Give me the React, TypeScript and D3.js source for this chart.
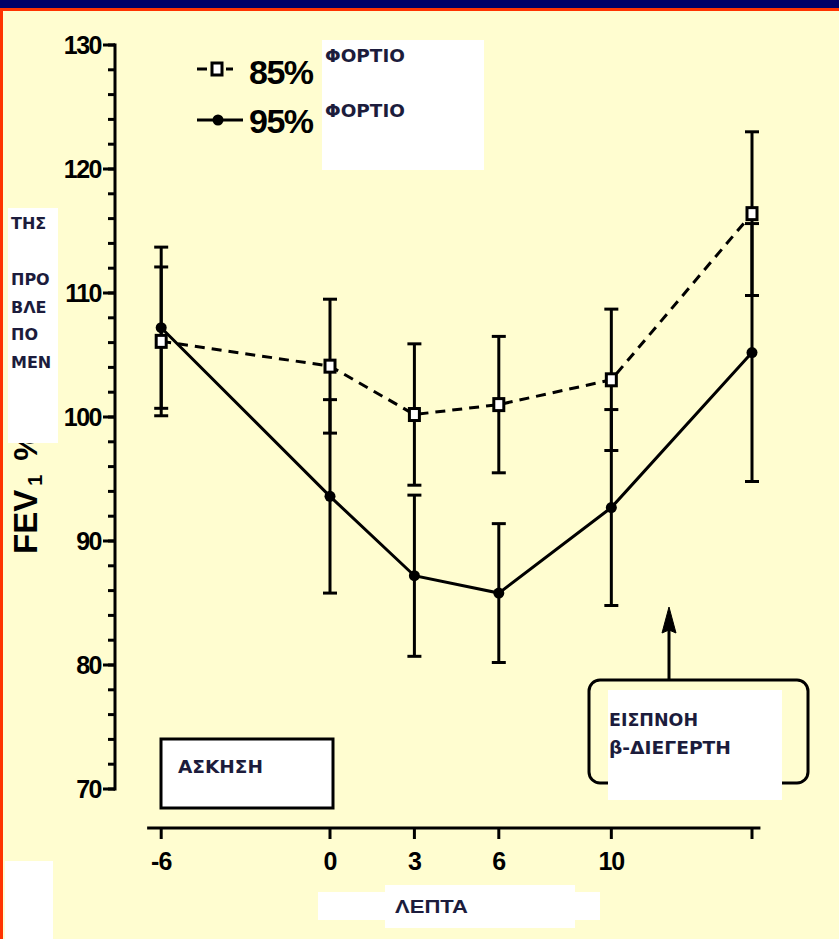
import React from "react";
import * as d3 from "d3";

// minutes relative to exercise end
const minutes = [-6, 0, 3, 6, 10, 15];
const xTickLabels = ["-6", "0", "3", "6", "10", ""];

// FEV1 % of predicted
const load85 = [106.1, 104.1, 100.2, 101.0, 103.0, 116.4];
const err85 = [6.0, 5.4, 5.7, 5.5, 5.7, 6.6];
const load95 = [107.2, 93.6, 87.2, 85.8, 92.7, 105.2];
const err95 = [6.5, 7.8, 6.5, 5.6, 7.9, 10.4];

const yMajor = [70, 80, 90, 100, 110, 120, 130];
const yMinor = d3.range(70, 131, 2);

const W = 839;
const H = 939;
const BG = "#fffdd0";
const NAVY = "#1c1c3c";

const App = () => {
  const x = d3.scaleLinear().domain([0, 15]).range([330, 752]);
  const y = d3.scaleLinear().domain([70, 130]).range([789, 45]);
  const axisY = 828;

  const line = d3
    .line<number>()
    .x((_, i) => x(minutes[i]))
    .y((d) => y(d));

  const errBars = (vals: number[], errs: number[], key: string) =>
    vals.map((v, i) => {
      const cx = x(minutes[i]);
      const top = y(v + errs[i]);
      const bot = y(v - errs[i]);
      return (
        <g key={key + i} stroke="#000" strokeWidth={3}>
          <line x1={cx} x2={cx} y1={top} y2={bot} />
          <line x1={cx - 7} x2={cx + 7} y1={top} y2={top} />
          <line x1={cx - 7} x2={cx + 7} y1={bot} y2={bot} />
        </g>
      );
    });

  return (
    <div style={{ position: "absolute", left: 0, top: 0 }}>
      <svg width={W} height={H} style={{ display: "block" }}>
        <rect x={0} y={0} width={W} height={H} fill={BG} />
        {/* frame */}
        <rect x={0} y={0} width={W} height={8} fill="#000066" />
        <rect x={0} y={8} width={W} height={3} fill="#ff3300" />
        <rect x={0} y={8} width={3} height={H} fill="#ff3300" />

        {/* y axis */}
        <g stroke="#000" strokeWidth={3}>
          <line x1={115} x2={115} y1={y(130) - 1.5} y2={y(70) + 1.5} />
          {yMinor.map((t) => (
            <line key={"mi" + t} x1={108} x2={115} y1={y(t)} y2={y(t)} />
          ))}
          {yMajor.map((t) => (
            <line key={"ma" + t} x1={103} x2={115} y1={y(t)} y2={y(t)} />
          ))}
        </g>
        {yMajor.map((t) => (
          <text
            key={"yl" + t}
            x={101}
            y={y(t)}
            dy="0.36em"
            textAnchor="end"
            fontFamily="Liberation Sans, Arial, sans-serif"
            fontWeight="bold"
            fontSize={25}
            letterSpacing={-1.5}
          >
            {t}
          </text>
        ))}

        {/* x axis */}
        <g stroke="#000" strokeWidth={3}>
          <line x1={x(-6.5)} x2={x(15.3)} y1={axisY} y2={axisY} />
          {minutes.map((m) => (
            <line key={"xt" + m} x1={x(m)} x2={x(m)} y1={axisY} y2={axisY + 11} />
          ))}
        </g>
        {minutes.map((m, i) => (
          <text
            key={"xl" + m}
            x={x(m)}
            y={870}
            textAnchor="middle"
            fontFamily="Liberation Sans, Arial, sans-serif"
            fontWeight="bold"
            fontSize={25}
            letterSpacing={-1}
          >
            {xTickLabels[i]}
          </text>
        ))}

        {/* y axis title */}
        <text
          transform="translate(37,554) rotate(-90)"
          fontFamily="Liberation Sans, Arial, sans-serif"
          fontWeight="bold"
          fontSize={33}
        >
          FEV
          <tspan fontSize={20} dy={5} dx={4}>1</tspan>
          <tspan dy={-5} dx={14}>%</tspan>
        </text>
        <rect x={8} y={208} width={50} height={235} fill="#fff" />
        <g fontFamily="DejaVu Sans, Verdana, sans-serif" fontWeight="bold" fontSize={16} fill={NAVY}>
          <text x={11} y={229}>ΤΗΣ</text>
          <text x={11} y={285}>ΠΡΟ</text>
          <text x={11} y={313}>ΒΛΕ</text>
          <text x={11} y={340}>ΠΟ</text>
          <text x={11} y={368}>ΜΕΝ</text>
        </g>

        {/* error bars */}
        {errBars(load85, err85, "e85")}
        {errBars(load95, err95, "e95")}

        {/* series lines */}
        <path d={line(load85) ?? ""} fill="none" stroke="#000" strokeWidth={3} strokeDasharray="10,7" />
        <path d={line(load95) ?? ""} fill="none" stroke="#000" strokeWidth={3} />

        {/* markers */}
        {load95.map((v, i) => (
          <circle key={"c" + i} cx={x(minutes[i])} cy={y(v)} r={5.5} fill="#000" />
        ))}
        {load85.map((v, i) => (
          <rect
            key={"s" + i}
            x={x(minutes[i]) - 5}
            y={y(v) - 6}
            width={10}
            height={12}
            fill="#fff"
            stroke="#000"
            strokeWidth={3}
          />
        ))}

        {/* legend */}
        <g stroke="#000" strokeWidth={3}>
          <line x1={197} x2={207} y1={69} y2={69} />
          <line x1={226} x2={233} y1={69} y2={69} />
          <line x1={197} x2={243} y1={120} y2={120} />
        </g>
        <rect x={212} y={63} width={10} height={12} fill="#fff" stroke="#000" strokeWidth={3} />
        <circle cx={218} cy={120} r={5.5} fill="#000" />
        <g fontFamily="Liberation Sans, Arial, sans-serif" fontWeight="bold" fontSize={34} letterSpacing={-1.5}>
          <text x={249} y={84}>85%</text>
          <text x={249} y={133}>95%</text>
        </g>
        <rect x={322} y={40} width={162} height={130} fill="#fff" />
        <g fontFamily="DejaVu Sans, Verdana, sans-serif" fontWeight="bold" fontSize={17} fill={NAVY}>
          <text x={325} y={62} textLength={80} lengthAdjust="spacingAndGlyphs">ΦΟΡΤΙΟ</text>
          <text x={325} y={117} textLength={80} lengthAdjust="spacingAndGlyphs">ΦΟΡΤΙΟ</text>
        </g>

        {/* exercise box */}
        <rect x={161} y={739} width={172} height={69} fill="#fff" stroke="#000" strokeWidth={3} />
        <text x={178} y={773} fontFamily="DejaVu Sans, Verdana, sans-serif" fontWeight="bold" fontSize={18} fill={NAVY} textLength={85} lengthAdjust="spacingAndGlyphs">
          ΑΣΚΗΣΗ
        </text>

        {/* bronchodilator annotation */}
        <line x1={669} x2={669} y1={630} y2={679} stroke="#000" strokeWidth={3} />
        <path d="M669,607 L676,633 L669,630 L662,633 Z" fill="#000" stroke="#000" strokeWidth={1} />
        <rect x={589} y={680} width={219} height={103} rx={11} fill="none" stroke="#000" strokeWidth={3} />
        <rect x={608} y={690} width={174} height={110} fill="#fff" />
        <g fontFamily="DejaVu Sans, Verdana, sans-serif" fontWeight="bold" fontSize={17} fill={NAVY}>
          <text x={609} y={726} textLength={89} lengthAdjust="spacingAndGlyphs">ΕΙΣΠΝΟΗ</text>
          <text x={609} y={754} textLength={122} lengthAdjust="spacingAndGlyphs">β-ΔΙΕΓΕΡΤΗ</text>
        </g>

        {/* x axis title */}
        <rect x={318} y={892} width={282} height={28} fill="#fff" />
        <rect x={385} y={885} width={190} height={43} fill="#fff" />
        <text x={395} y={913} fontFamily="Liberation Sans, Arial, sans-serif" fontWeight="bold" fontSize={19} fill={NAVY} textLength={73} lengthAdjust="spacingAndGlyphs">
          ΛΕΠΤΑ
        </text>

        {/* bottom-left blank patch */}
        <rect x={5} y={861} width={48} height={78} fill="#fff" />
      </svg>
    </div>
  );
};

export default App;
